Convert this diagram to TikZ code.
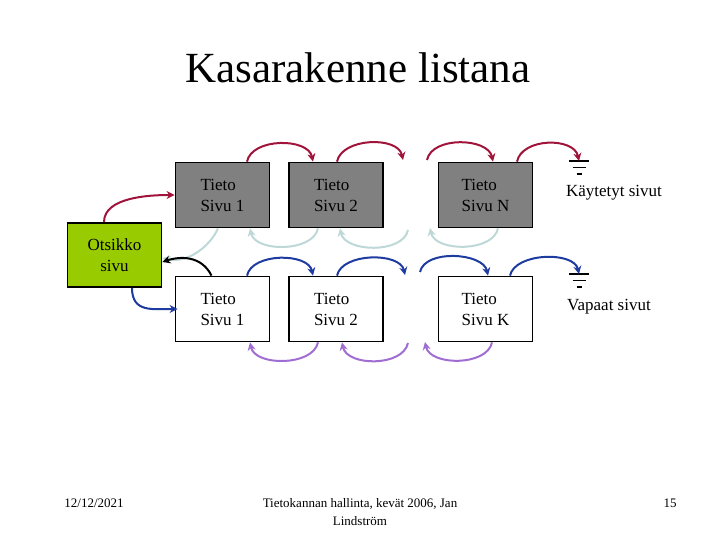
\documentclass[tikz,border=0pt]{standalone}
\usepackage{fontspec}
\setmainfont{Liberation Serif}
\usetikzlibrary{arrows.meta}
\definecolor{sivugray}{RGB}{128,128,128}
\definecolor{otsgreen}{RGB}{153,204,0}
\definecolor{usedred}{RGB}{160,20,60}
\definecolor{backcyan}{RGB}{190,215,215}
\definecolor{freeblue}{RGB}{30,60,160}
\definecolor{freeviolet}{RGB}{160,110,210}
\begin{document}
\begin{tikzpicture}[x=1pt,y=1pt,
    sivubox/.style={draw=black,line width=1.8pt,minimum width=94pt,minimum height=65pt,
      align=left,inner sep=0pt,font=\fontsize{17}{21}\selectfont},
    usedbox/.style={sivubox,fill=sivugray},
    freebox/.style={sivubox,fill=white},
    link/.style={line width=2pt,-{Stealth[length=8pt,width=8pt]}},
    usedlink/.style={link,draw=usedred},
    backlink/.style={link,draw=backcyan},
    freelink/.style={link,draw=freeblue},
    freeback/.style={link,draw=freeviolet},
    lbl/.style={font=\fontsize{17}{21}\selectfont},
    foot/.style={font=\fontsize{13}{18}\selectfont}]
    \useasboundingbox (0,0) rectangle (720,540);
    % title
    \node (title) at (358,472) {\fontsize{43}{50}\selectfont Kasarakenne listana};
    % used pages
    \node[usedbox] (t1) at (222.5,345) {Tieto\\Sivu 1};
    \node[usedbox] (t2) at (336,345) {Tieto\\Sivu 2};
    \node[usedbox] (tn) at (485.5,345) {Tieto\\Sivu N};
    % free pages
    \node[freebox] (v1) at (222.5,231) {Tieto\\Sivu 1};
    \node[freebox] (v2) at (336,231) {Tieto\\Sivu 2};
    \node[freebox] (vk) at (485.5,231) {Tieto\\Sivu K};
    % header page
    \node[sivubox,fill=otsgreen,align=center,minimum height=64pt] (ots) at (114.5,285) {Otsikko\\sivu};
    % gaps and list ends
    \coordinate (gt1) at (403,380);
    \coordinate (gt2) at (427,380);
    \coordinate (gb1) at (430,312);
    \coordinate (gb2) at (408,310);
    \coordinate (gv1) at (405,265);
    \coordinate (gv2) at (420,268);
    \coordinate (gp1) at (425,198);
    \coordinate (gp2) at (408,197);
    \coordinate (gu) at (579,379);
    \coordinate (gf) at (579,266);
    % ground symbols
    \foreach \g in {gu,gf} {
      \draw[line width=1.5pt] ([xshift=-10pt]\g) -- ([xshift=10pt]\g);
      \draw[line width=1.5pt] ([xshift=-6.5pt,yshift=-6.5pt]\g) -- ([xshift=6.5pt,yshift=-6.5pt]\g);
      \draw[line width=1.5pt] ([xshift=-2.5pt,yshift=-13pt]\g) -- ([xshift=2.5pt,yshift=-13pt]\g);
    }
    \node[lbl] (used) at (614,347) {Käytetyt sivut};
    \node[lbl] (free) at (609,233) {Vapaat sivut};
    % used list forward
    \draw[usedlink] ([xshift=-10.5pt]ots.north) .. controls +(0,25) and +(-25,0) .. (t1.west);
    \draw[usedlink] ([xshift=24.5pt]t1.north) .. controls +(5,24) and +(-5,24) .. ([xshift=-23pt]t2.north);
    \draw[usedlink] ([xshift=1pt]t2.north) .. controls +(5,24) and +(-5,24) .. (gt1);
    \draw[usedlink] (gt2) .. controls +(5,24) and +(-5,24) .. ([xshift=7.5pt]tn.north);
    \draw[usedlink] ([xshift=31.5pt]tn.north) .. controls +(5,24) and +(-5,24) .. (gu);
    % used list backward
    \draw[backlink] ([xshift=-4.5pt]t1.south) .. controls +(-8,-18) and +(25,-6) .. ([yshift=-3pt]ots.east);
    \draw[backlink] ([xshift=-18pt]t2.south) .. controls +(-5,-24) and +(5,-24) .. ([xshift=27.5pt]t1.south);
    \draw[backlink] (gb2) .. controls +(-5,-24) and +(5,-24) .. ([xshift=4pt]t2.south);
    \draw[backlink] ([xshift=12.5pt]tn.south) .. controls +(-5,-24) and +(5,-24) .. (gb1);
    % free list forward
    \draw[link,draw=black] ([xshift=-11pt]v1.north) .. controls +(-10,20) and +(18,6) .. ([yshift=-7pt]ots.east);
    \draw[freelink] ([xshift=17.5pt]ots.south) .. controls +(0,-25) and +(-25,0) .. ([xshift=3pt]v1.west);
    \draw[freelink] ([xshift=24.5pt]v1.north) .. controls +(5,23) and +(-5,23) .. ([xshift=-23pt]v2.north);
    \draw[freelink] ([xshift=1pt]v2.north) .. controls +(5,23) and +(-5,23) .. (gv1);
    \draw[freelink] (gv2) .. controls +(5,23) and +(-5,23) .. ([xshift=2.5pt]vk.north);
    \draw[freelink] ([xshift=24.5pt]vk.north) .. controls +(5,23) and +(-5,23) .. (gf);
    % free list backward
    \draw[freeback] ([xshift=-18pt]v2.south) .. controls +(-5,-24) and +(5,-24) .. ([xshift=27.5pt]v1.south);
    \draw[freeback] (gp2) .. controls +(-5,-24) and +(5,-24) .. ([xshift=6pt]v2.south);
    \draw[freeback] ([xshift=6.5pt]vk.south) .. controls +(-5,-24) and +(5,-24) .. (gp1);
    % footer
    \node[foot] (date) at (94,37) {12/12/2021};
    \node[foot,align=center] (course) at (360,28) {Tietokannan hallinta, kevät 2006, Jan\\Lindström};
    \node[foot] (page) at (670,37) {15};
\end{tikzpicture}
\end{document}
